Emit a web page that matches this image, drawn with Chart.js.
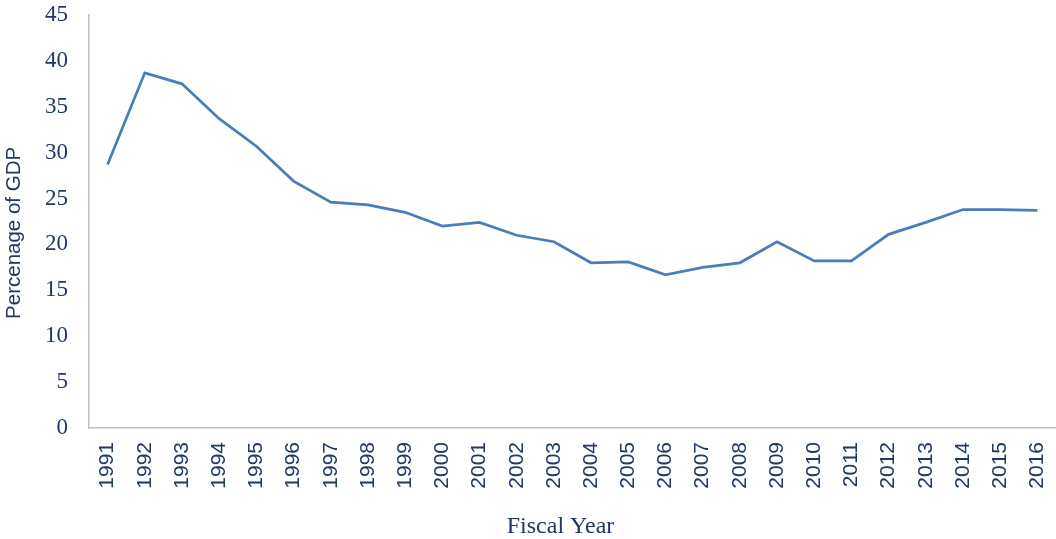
<!DOCTYPE html>
<html>
<head>
<meta charset="utf-8">
<script src="https://cdn.jsdelivr.net/npm/chart.js@4"></script>
<style>
  html, body { margin: 0; padding: 0; background: #fff; }
  #wrap { width: 1056px; height: 539px; }
</style>
</head>
<body>
<div id="wrap"><canvas id="chart"></canvas></div>
<script>
const years = ["1991", "1992", "1993", "1994", "1995", "1996", "1997", "1998", "1999", "2000",
  "2001", "2002", "2003", "2004", "2005", "2006", "2007", "2008", "2009", "2010",
  "2011", "2012", "2013", "2014", "2015", "2016"];
const gdpShare = [28.7, 38.7, 37.5, 33.7, 30.7, 26.9, 24.6, 24.3, 23.5, 22.0,
  22.4, 21.0, 20.3, 18.0, 18.1, 16.7, 17.5, 18.0, 20.3, 18.2,
  18.2, 21.1, 22.4, 23.8, 23.8, 23.7];
const yTicks = { min: 0, max: 45, step: 5 };

const NAVY = "#1F3864";
const AXIS = "#BFBFBF";
const NBSP = "\u00A0";

new Chart(document.getElementById("chart"), {
  type: "line",
  data: {
    labels: years,
    datasets: [{
      data: gdpShare,
      borderColor: "#4A7EBB",
      backgroundColor: "#4A7EBB",
      borderWidth: 2.75,
      pointRadius: 0,
      tension: 0,
    }],
  },
  options: {
    responsive: true,
    maintainAspectRatio: false,
    animation: false,
    layout: { padding: 0 },
    plugins: { legend: { display: false }, tooltip: { enabled: false } },
    scales: {
      x: {
        offset: true,
        grid: { display: false, drawTicks: false },
        border: { display: true, color: AXIS, width: 1.5 },
        ticks: {
          color: NAVY,
          font: { family: "'Liberation Sans', Arial, sans-serif", size: 21 },
          minRotation: 90,
          maxRotation: 90,
          padding: 14,
          autoSkip: false,
        },
        title: {
          display: true,
          // trailing spaces nudge the centred title a bit left, like the original
          text: "Fiscal Year" + NBSP.repeat(4),
          color: NAVY,
          font: { family: "'Liberation Serif', 'Times New Roman', serif", size: 24, lineHeight: 1 },
          padding: { top: 0, bottom: 0 },
        },
        afterFit: (scale) => {
          scale.height = 111;
          scale.paddingLeft = 0;
          scale.paddingRight = 0;
        },
      },
      y: {
        min: yTicks.min,
        max: yTicks.max,
        grid: { display: false, drawTicks: false },
        border: { display: true, color: AXIS, width: 1.5 },
        ticks: {
          stepSize: yTicks.step,
          color: NAVY,
          font: { family: "'Liberation Serif', 'Times New Roman', serif", size: 23 },
          padding: 21,
        },
        title: {
          display: true,
          text: "Percenage of GDP" + NBSP.repeat(4),
          color: NAVY,
          font: { family: "'Liberation Sans', Arial, sans-serif", size: 20.5, lineHeight: 1 },
          padding: { top: 4, bottom: 0 },
        },
        afterFit: (scale) => {
          scale.width = 89;
          scale.paddingTop = 15;
          scale.paddingBottom = 0;
        },
      },
    },
  },
});
</script>
</body>
</html>
